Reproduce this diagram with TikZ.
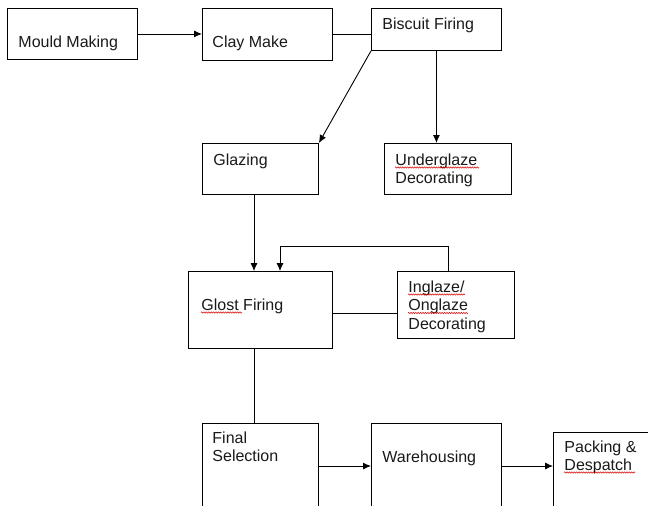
\documentclass[tikz,border=0pt]{standalone}
\usepackage{fontspec}
\setmainfont{Liberation Sans}
\usetikzlibrary{arrows.meta, decorations.pathmorphing}

\begin{document}
\begin{tikzpicture}[x=1pt, y=-1pt, >={Latex[length=8pt,width=7pt]}, line width=0.9pt,
    box/.style={draw, anchor=north west, inner sep=0pt},
    txt/.style={anchor=base west, inner sep=0pt, align=left, text=black!90, font=\fontsize{16}{18.5}\selectfont},
    spell/.style={draw=red!85!black, line width=0.5pt, decorate, decoration={zigzag, amplitude=0.7pt, segment length=2.4pt}}]
    \clip (0,0) rectangle (648,506);

    % top row
    \node (mould) [box, minimum width=130pt, minimum height=51pt] at (7,8) {};
    \node (mould-t) [txt] at (18,47) {Mould Making};
    \node (clay) [box, minimum width=130pt, minimum height=52pt] at (202,8) {};
    \node (clay-t) [txt] at (212,47) {Clay Make};
    \node (biscuit) [box, minimum width=130pt, minimum height=42pt] at (371,8) {};
    \node (biscuit-t) [txt] at (382,29) {Biscuit Firing};

    % glazing and underglaze (base = last line)
    \node (glazing) [box, minimum width=116pt, minimum height=51pt] at (202,143) {};
    \node (glazing-t) [txt] at (213,165) {Glazing};
    \node (under) [box, minimum width=127pt, minimum height=51pt] at (384,143) {};
    \node (under-t) [txt] at (395,183.5) {Underglaze\\Decorating};

    % glost firing and inglaze
    \node (glost) [box, minimum width=144pt, minimum height=77pt] at (188,271) {};
    \node (glost-t) [txt] at (201,310) {Glost Firing};
    \node (inglaze) [box, minimum width=117pt, minimum height=67pt] at (397,271) {};
    \node (inglaze-t) [txt] at (408,329) {Inglaze/\\Onglaze\\Decorating};

    % bottom row
    \node (final) [box, minimum width=116pt, minimum height=100pt] at (202,423) {};
    \node (final-t) [txt] at (212,461.5) {Final\\Selection};
    \node (ware) [box, minimum width=130pt, minimum height=100pt] at (371,423) {};
    \node (ware-t) [txt] at (382,462) {Warehousing};
    \node (pack) [box, minimum width=110pt, minimum height=100pt] at (553,432) {};
    \node (pack-t) [txt] at (564,470.5) {Packing \&\\Despatch};

    % helper coordinates
    \coordinate (trunk) at (254,0);
    \coordinate (loop) at (448,246);
    \coordinate (loopend) at (280,246);
    \coordinate (link) at (0,313);
    \coordinate (low) at (0,466);

    % connectors
    \draw[->] (mould.east) -- (mould.east -| clay.west);
    \draw (clay.east) -- (clay.east -| biscuit.west);
    \draw[->] (biscuit.south west) -- (glazing.north east);
    \draw[->] (biscuit.south) -- (biscuit.south |- under.north);
    \draw[->] (glazing.south -| trunk) -- (glost.north -| trunk);
    \draw[->] (inglaze.north -| loop) -- (loop) -- (loopend) -- (loopend |- glost.north);
    \draw (glost.east |- link) -- (inglaze.west |- link);
    \draw (glost.south -| trunk) -- (final.north -| trunk);
    \draw[->] (final.east |- low) -- (ware.west |- low);
    \draw[->] (ware.east |- low) -- (pack.west |- low);

    % spell-check marks
    \draw[spell] (395,167.5) -- (479,167.5);
    \draw[spell] (201,312.5) -- (242,312.5);
    \draw[spell] (408,294.5) -- (465,294.5);
    \draw[spell] (408,313) -- (468,313);
    \draw[spell] (564,472.5) -- (635,472.5);
\end{tikzpicture}
\end{document}
